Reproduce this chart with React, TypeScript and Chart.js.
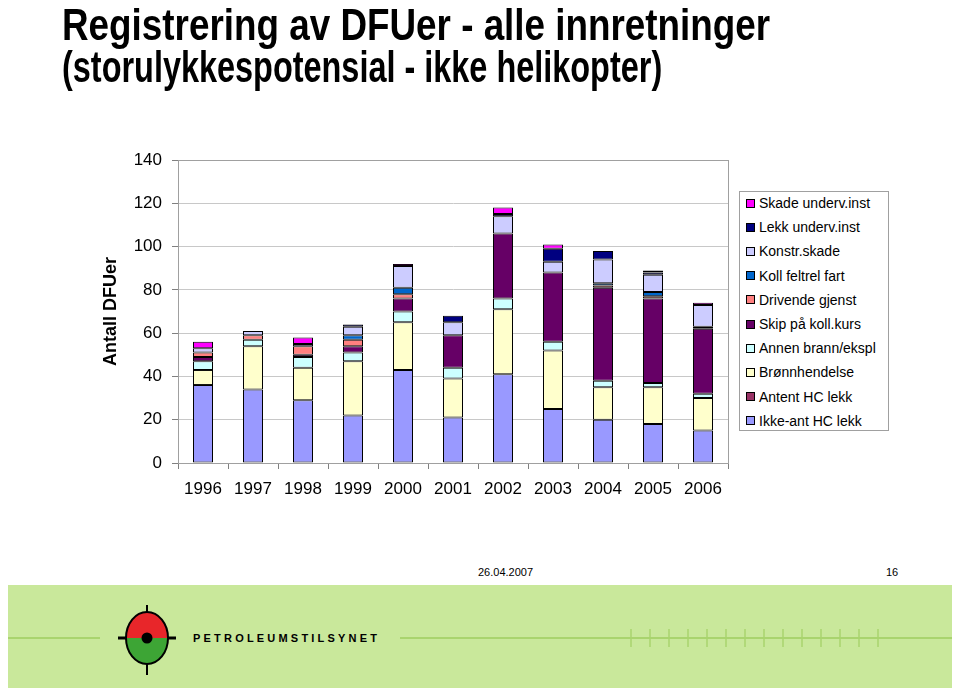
import React, { useEffect, useRef } from "react";
import { Chart, registerables } from "chart.js";

Chart.register(...registerables);

const years = ["1996", "1997", "1998", "1999", "2000", "2001", "2002", "2003", "2004", "2005", "2006"];
const yTicks = [0, 20, 40, 60, 80, 100, 120, 140];

// stacked series, bottom to top
const ikkeAntHcLekk = [36, 34, 29, 22, 43, 21, 41, 25, 20, 18, 15];
const antentHcLekk = [0, 0, 0, 0, 0, 0, 0, 0, 0, 0, 0];
const bronnhendelse = [7, 20, 15, 25, 22, 18, 30, 27, 15, 17, 15];
const annenBrann = [4, 3, 5, 4, 5, 5, 5, 4, 3, 2, 2];
const skipKollKurs = [2, 0, 1, 3, 6, 15, 30, 32, 43, 39, 30];
const drivendeGjenst = [2, 2, 4, 3, 2, 0, 0, 0, 1, 1, 0];
const kollFeltrelFart = [0, 0, 0, 2, 3, 0, 0, 0, 1, 2, 1];
const konstrSkade = [2, 2, 1, 4, 10, 6, 8, 5, 11, 8, 10];
const lekkUndervInst = [0, 0, 0, 1, 0, 3, 1, 6, 4, 1, 0];
const skadeUndervInst = [3, 0, 3, 0, 1, 0, 3, 2, 0, 1, 1];

const seriesNames = [
  "Ikke-ant HC lekk",
  "Antent HC lekk",
  "Brønnhendelse",
  "Annen brann/ekspl",
  "Skip på koll.kurs",
  "Drivende gjenst",
  "Koll feltrel fart",
  "Konstr.skade",
  "Lekk underv.inst",
  "Skade underv.inst",
];
const seriesValues = [
  ikkeAntHcLekk,
  antentHcLekk,
  bronnhendelse,
  annenBrann,
  skipKollKurs,
  drivendeGjenst,
  kollFeltrelFart,
  konstrSkade,
  lekkUndervInst,
  skadeUndervInst,
];
const seriesColors = [
  "#9999FF",
  "#993366",
  "#FFFFCC",
  "#CCFFFF",
  "#660066",
  "#FF8080",
  "#0066CC",
  "#CCCCFF",
  "#000080",
  "#FF00FF",
];

const FONT = "'Liberation Sans', Arial, sans-serif";

const plotBorder = {
  id: "plotBorder",
  beforeDatasetsDraw(chart: any) {
    const { ctx, chartArea } = chart;
    ctx.save();
    ctx.strokeStyle = "#a0a0a0";
    ctx.lineWidth = 1;
    ctx.strokeRect(chartArea.left + 0.5, chartArea.top + 0.5, chartArea.right - chartArea.left, chartArea.bottom - chartArea.top);
    ctx.restore();
  },
};

function FitText({ text, width, style }: { text: string; width: number; style: any }) {
  const ref = useRef<HTMLSpanElement | null>(null);
  useEffect(() => {
    const el = ref.current;
    if (!el) return;
    el.style.transform = "none";
    const w = el.offsetWidth;
    if (w > 0) el.style.transform = `scaleX(${width / w})`;
  }, [text, width]);
  return (
    <span ref={ref} style={{ display: "inline-block", whiteSpace: "nowrap", transformOrigin: "0 0", ...style }}>
      {text}
    </span>
  );
}

export default function App() {
  const canvasRef = useRef<HTMLCanvasElement | null>(null);

  useEffect(() => {
    const canvas = canvasRef.current;
    if (!canvas) return;
    const chart = new Chart(canvas, {
      type: "bar",
      data: {
        labels: years,
        datasets: seriesNames.map((name, i) => ({
          label: name,
          data: seriesValues[i].map((v) => (v === 0 ? null : v)),
          backgroundColor: seriesColors[i],
          borderColor: "#000000",
          borderWidth: 1,
          borderSkipped: false,
          categoryPercentage: 1,
          barPercentage: 0.4,
        })),
      },
      options: {
        animation: false,
        responsive: false,
        devicePixelRatio: 1,
        layout: { padding: { left: 0, right: 232, top: 160, bottom: 0 } },
        plugins: { legend: { display: false }, tooltip: { enabled: false }, title: { display: false } },
        scales: {
          x: {
            stacked: true,
            grid: { display: true, drawOnChartArea: false, offset: true, tickLength: 6, color: "#808080" },
            border: { display: true, color: "#808080", width: 1 },
            ticks: { color: "#000", font: { family: FONT, size: 17 }, padding: 10, maxRotation: 0, autoSkip: false },
            afterFit: (s: any) => {
              s.height = 57;
            },
          },
          y: {
            stacked: true,
            min: 0,
            max: 140,
            afterBuildTicks: (s: any) => {
              s.ticks = yTicks.map((v) => ({ value: v }));
            },
            grid: { color: "#c8c8c8", tickLength: 6, drawTicks: true, tickColor: "#808080" },
            border: { display: true, color: "#808080", width: 1 },
            ticks: { color: "#000", font: { family: FONT, size: 17 }, padding: 10 },
            title: {
              display: true,
              text: "Antall DFUer",
              color: "#000",
              font: { family: FONT, size: 18, weight: "bold" },
              padding: { top: 100, bottom: 0 },
            },
            afterFit: (s: any) => {
              s.width = 178;
            },
          },
        },
      },
      plugins: [plotBorder],
    });
    return () => chart.destroy();
  }, []);

  const legendItems = seriesNames.map((n, i) => ({ name: n, color: seriesColors[i] })).reverse();

  return (
    <div style={{ position: "relative", width: 960, height: 696, margin: -8, overflow: "hidden", background: "#fff", fontFamily: FONT }}>
      <canvas ref={canvasRef} width={960} height={520} style={{ position: "absolute", left: 0, top: 0, width: 960, height: 520 }} />

      <div style={{ position: "absolute", left: 62, top: 0, lineHeight: 1.1, color: "#000" }}>
        <FitText
          text="Registrering av DFUer - alle innretninger"
          width={708}
          style={{ fontFamily: "'Liberation Sans Narrow', 'Liberation Sans', Arial, sans-serif", fontWeight: 700, fontSize: 45 }}
        />
      </div>
      <div style={{ position: "absolute", left: 62, top: 45, lineHeight: 1, color: "#000" }}>
        <FitText
          text="(storulykkespotensial - ikke helikopter)"
          width={600}
          style={{ fontFamily: "'Liberation Sans Narrow', 'Liberation Sans', Arial, sans-serif", fontWeight: 700, fontSize: 44 }}
        />
      </div>

      <div
        style={{
          position: "absolute",
          left: 739,
          top: 191,
          width: 150,
          height: 240,
          border: "1px solid #a0a0a0",
          boxSizing: "border-box",
          background: "#fff",
        }}
      >
        {legendItems.map((it, k) => (
          <div key={it.name} style={{ position: "absolute", left: 6, top: 11 + k * 24.2 - 8, height: 16, display: "flex", alignItems: "center" }}>
            <span style={{ display: "inline-block", width: 9, height: 9, background: it.color, border: "1px solid #000", boxSizing: "border-box", marginRight: 4 }} />
            <span style={{ fontSize: 14, color: "#000", whiteSpace: "nowrap" }}>{it.name}</span>
          </div>
        ))}
      </div>

      <div style={{ position: "absolute", left: 478, top: 566, fontSize: 11, color: "#000" }}>26.04.2007</div>
      <div style={{ position: "absolute", left: 886, top: 566, fontSize: 11, color: "#000" }}>16</div>

      <div style={{ position: "absolute", left: 5, top: 585, width: 950, height: 111, background: "#C9E89B" }}>
        <svg width={950} height={111} style={{ position: "absolute", left: 0, top: 0 }}>
          <line x1={0} y1={53} x2={95} y2={53} stroke="#A9D46E" strokeWidth={2} />
          <line x1={395} y1={53} x2={950} y2={53} stroke="#A9D46E" strokeWidth={2} />
          {Array.from({ length: 14 }).map((_, i) => (
            <line key={i} x1={626 + i * 19} y1={44} x2={626 + i * 19} y2={62} stroke="#A9D46E" strokeWidth={1.5} />
          ))}
          <line x1={142} y1={20} x2={142} y2={90} stroke="#000" strokeWidth={2} />
          <line x1={113} y1={53} x2={171} y2={53} stroke="#000" strokeWidth={3} />
          <path d="M 121 53 A 21 26 0 0 1 163 53 Z" fill="#E8262A" />
          <path d="M 121 53 A 21 26 0 0 0 163 53 Z" fill="#3DA535" />
          <ellipse cx={142} cy={53} rx={21} ry={26} fill="none" stroke="#000" strokeWidth={2} />
          <line x1={142} y1={20} x2={142} y2={27} stroke="#000" strokeWidth={2} />
          <line x1={142} y1={79} x2={142} y2={90} stroke="#000" strokeWidth={2} />
          <circle cx={142} cy={53} r={5.5} fill="#000" />
          <text x={188} y={57} fontFamily={FONT} fontWeight={700} fontSize={11} letterSpacing={3.2} fill="#000">
            PETROLEUMSTILSYNET
          </text>
        </svg>
      </div>
    </div>
  );
}
